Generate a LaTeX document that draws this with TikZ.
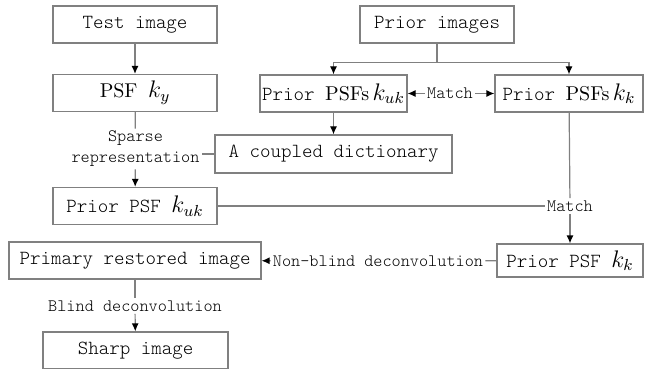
\documentclass[tikz,border=0pt]{standalone}
\usepackage{amsmath}
\usepackage{tikz}
\usepackage{xcolor}
\usetikzlibrary{arrows.meta, positioning}
\definecolor{linegray}{RGB}{128,128,128}

\begin{document}
\begin{tikzpicture}[x=0.5pt, y=-0.5pt,
    box/.style={draw=linegray, line width=0.6pt, minimum height=18.5pt, inner sep=0pt, font=\ttfamily\fontseries{l}\fontsize{10}{12}\selectfont},
    lbl/.style={inner sep=1pt, align=center, font=\ttfamily\fontseries{l}\fontsize{8.7}{10.5}\selectfont},
    line/.style={draw=linegray, line width=0.6pt},
    arr/.style={line, -{Latex[length=4pt, width=3.5pt, color=black]}}]
    \clip (0,0) rectangle (653,369);

    % Boxes
    \node[box, minimum width=82pt] (test) at (135,24.5) {Test image};
    \node[box, minimum width=82pt] (psfy) at (135,93) {{\rmfamily PSF} {\large$k_{y}$}};
    \node[box, minimum width=77pt] (prior) at (437,24.5) {Prior images};
    \node[box, minimum width=73.5pt] (psfsuk) at (333.5,93.5) {Prior {\rmfamily PSFs}\,{\large$k_{uk}$}};
    \node[box, minimum width=74pt] (psfsk) at (569,93.5) {Prior {\rmfamily PSFs}\,{\large$k_{k}$}};
    \node[box, minimum width=118.5pt, minimum height=19pt] (dict) at (333.5,154) {A coupled dictionary};
    \node[box, minimum width=82pt] (priork) at (135,206) {Prior PSF {\large$k_{uk}$}};
    \node[box, minimum width=126pt] (primary) at (135,260.5) {Primary restored image};
    \node[box, minimum width=92.5pt] (sharp) at (135.5,350.5) {Sharp image};
    \node[box, minimum width=73pt, minimum height=16.5pt] (priorkk) at (570,260.5) {Prior PSF {\large$k_{k}$}};

    % Labels
    \node[lbl] (sparse) at (135.5,149) {Sparse\\representation};
    \node[lbl] (match) at (450,93.5) {Match};
    \node[lbl] (match2) at (570,206) {Match};
    \node[lbl] (nonblind) at (378,261) {Non-blind deconvolution};
    \node[lbl] (blind) at (135,306) {Blind deconvolution};

    % Connectors
    \draw[arr] (test) -- (psfy);
    \draw[line] (psfy) -- (sparse);
    \draw[arr] (sparse) -- (priork);
    \draw[line] (dict.west) -- (dict.west -| sparse.east);
    \draw[line] (prior.south) -- ++(0,19) coordinate (fork);
    \draw[arr] (fork) -| (psfsuk.north);
    \draw[arr] (fork) -| (psfsk.north);
    \draw[arr] (match) -- (psfsuk);
    \draw[arr] (match) -- (psfsk);
    \draw[arr] (psfsuk) -- (dict);
    \draw[line] (psfsk) -- (match2);
    \draw[arr] (match2) -- (priorkk);
    \draw[line] (priork) -- (match2);
    \draw[line] (priorkk) -- (nonblind);
    \draw[arr] (nonblind) -- (primary);
    \draw[line] (primary) -- (blind);
    \draw[arr] (blind) -- (sharp);
\end{tikzpicture}
\end{document}
